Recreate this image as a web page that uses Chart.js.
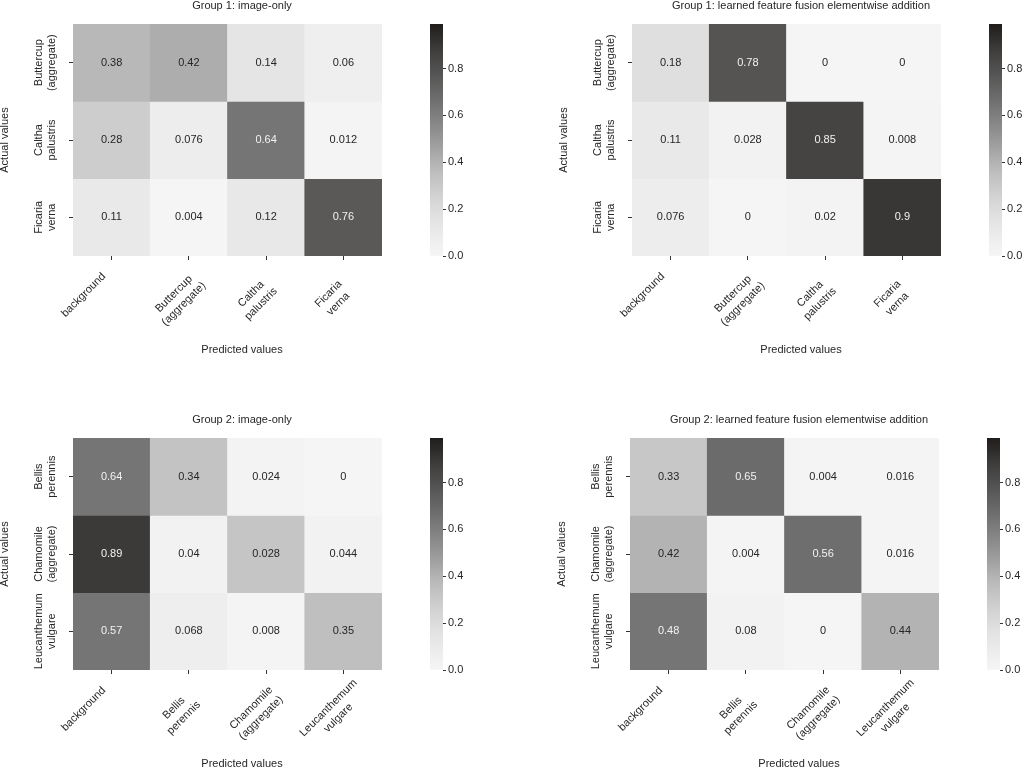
<!DOCTYPE html>
<html>
<head>
<meta charset="utf-8">
<title>Confusion matrices</title>
<script src="https://cdn.jsdelivr.net/npm/chart.js@4.4.0/dist/chart.umd.min.js"></script>
<style>
    html, body { margin: 0; padding: 0; background: #fff; overflow: hidden; }
    #page { position: relative; width: 1024px; height: 768px; overflow: hidden; }
    .panel { position: absolute; width: 512px; height: 384px; }
    .panel canvas { position: absolute; top: 0; }
</style>
</head>
<body>
<div id="page">
    <div class="panel" style="left:0px;top:0px">
        <canvas id="hm1" width="420" height="384" style="left:0px"></canvas>
        <canvas id="cb1" width="92" height="384" style="left:420px"></canvas>
    </div>
    <div class="panel" style="left:559px;top:0px">
        <canvas id="hm2" width="420" height="384" style="left:0px"></canvas>
        <canvas id="cb2" width="92" height="384" style="left:420px"></canvas>
    </div>
    <div class="panel" style="left:0px;top:414px">
        <canvas id="hm3" width="420" height="384" style="left:0px"></canvas>
        <canvas id="cb3" width="92" height="384" style="left:420px"></canvas>
    </div>
    <div class="panel" style="left:557px;top:414px">
        <canvas id="hm4" width="420" height="384" style="left:0px"></canvas>
        <canvas id="cb4" width="92" height="384" style="left:420px"></canvas>
    </div>
</div>
<script>
// class names (multi-line labels)
const group1Classes = [['Buttercup', '(aggregate)'], ['Caltha', 'palustris'], ['Ficaria', 'verna']];
const group2Classes = [['Bellis', 'perennis'], ['Chamomile', '(aggregate)'], ['Leucanthemum', 'vulgare']];
const group1Predicted = [['background'], ...group1Classes];
const group2Predicted = [['background'], ...group2Classes];

// printed values, rows = actual, columns = predicted
const g1ImageOnly = [
    [0.38, 0.42, 0.14, 0.06],
    [0.28, 0.076, 0.64, 0.012],
    [0.11, 0.004, 0.12, 0.76]
];
const g1Fusion = [
    [0.18, 0.78, 0, 0],
    [0.11, 0.028, 0.85, 0.008],
    [0.076, 0, 0.02, 0.9]
];
const g2ImageOnly = [
    [0.64, 0.34, 0.024, 0],
    [0.89, 0.04, 0.028, 0.044],
    [0.57, 0.068, 0.008, 0.35]
];
const g2Fusion = [
    [0.33, 0.65, 0.004, 0.016],
    [0.42, 0.004, 0.56, 0.016],
    [0.48, 0.08, 0, 0.44]
];

// shading of the group 2 cells (it does not always follow the printed number)
const g2ImageOnlyShade = [
    [0.64, 0.33, 0.02, 0],
    [0.89, 0.03, 0.32, 0.03],
    [0.64, 0.07, 0.01, 0.35]
];
const g2FusionShade = [
    [0.31, 0.68, 0.01, 0.01],
    [0.40, 0.01, 0.67, 0.01],
    [0.64, 0.03, 0, 0.40]
];

const cbarTicks = [0, 0.2, 0.4, 0.6, 0.8];
const cbarMax = 0.99;

const FONT = { family: '"Liberation Sans", Arial, sans-serif', size: 11 };
const FONT_CSS = FONT.size + 'px ' + FONT.family;
const TEXT = '#262626';
const LINE_H = 14;

// grey colour map, light to dark
const greys = [255, 240, 217, 189, 150, 115, 82, 50, 10];
function colourOf(v) {
    let t = Math.min(Math.max(v / cbarMax, 0), 1) * 8;
    let i = Math.min(Math.floor(t), 7);
    let g = greys[i] + (greys[i + 1] - greys[i]) * (t - i);
    g = 245 - (255 - g) * 0.88;
    // slightly warm tone in the dark end
    let k = Math.max(0, (120 - g) / 40);
    return 'rgb(' + Math.round(g + k) + ',' + Math.round(g) + ',' + Math.round(g - k) + ')';
}

function heatmap(id, title, rows, cols, vals, shade) {
    const datasets = rows.map((row, r) => ({
        label: row.join(' '),
        data: vals[r].map(() => [r, r + 1]),
        backgroundColor: shade[r].map(colourOf),
        borderWidth: 0,
        barPercentage: 1,
        categoryPercentage: 1,
        grouped: false
    }));

    // numbers inside the cells
    const cellText = {
        id: 'cellText',
        afterDatasetsDraw(chart) {
            const ctx = chart.ctx;
            ctx.save();
            ctx.font = FONT_CSS;
            ctx.textAlign = 'center';
            ctx.textBaseline = 'middle';
            chart.data.datasets.forEach((ds, r) => {
                chart.getDatasetMeta(r).data.forEach((bar, c) => {
                    ctx.fillStyle = shade[r][c] > 0.5 ? '#f2f2f2' : TEXT;
                    ctx.fillText(String(vals[r][c]), bar.x, (bar.y + bar.base) / 2);
                });
            });
            ctx.restore();
        }
    };

    // title, axis labels, rotated tick labels
    const panelText = {
        id: 'panelText',
        afterDraw(chart) {
            const ctx = chart.ctx;
            const area = chart.chartArea;
            const xScale = chart.scales.x;
            const yScale = chart.scales.y;
            ctx.save();
            ctx.font = FONT_CSS;
            ctx.fillStyle = TEXT;
            ctx.textAlign = 'center';
            ctx.textBaseline = 'middle';
            ctx.fillText(title, area.left + 169, area.top - 18);
            ctx.fillText('Predicted values', area.left + 169, area.bottom + 94);

            ctx.save();
            ctx.translate(5, (area.top + area.bottom) / 2);
            ctx.rotate(-Math.PI / 2);
            ctx.fillText('Actual values', 0, 0);
            ctx.restore();

            // row labels, turned upright
            rows.forEach((lines, r) => {
                const y = yScale.getPixelForValue(r + 0.5);
                ctx.save();
                ctx.translate(area.left - 28, y);
                ctx.rotate(-Math.PI / 2);
                lines.forEach((line, k) => {
                    ctx.fillText(line, 0, (k - (lines.length - 1) / 2) * 13);
                });
                ctx.restore();
            });

            // column labels at 45 degrees, lines centred in the block
            cols.forEach((lines, c) => {
                const x = xScale.getPixelForValue(c);
                const single = lines.length === 1;
                ctx.save();
                ctx.translate(x + (single ? -28 : -10), area.bottom + (single ? 39 : 43));
                ctx.rotate(-Math.PI / 4);
                lines.forEach((line, k) => {
                    ctx.fillText(line, 0, (k - (lines.length - 1) / 2) * LINE_H);
                });
                ctx.restore();
            });
            ctx.restore();
        }
    };

    const tickGrid = {
        offset: false,
        drawOnChartArea: false,
        drawTicks: true,
        tickLength: 4,
        color: '#333',
        lineWidth: 1
    };

    new Chart(document.getElementById(id), {
        type: 'bar',
        data: { labels: cols.map(l => l.join(' ')), datasets: datasets },
        options: {
            responsive: false,
            animation: false,
            devicePixelRatio: 1,
            layout: { padding: { top: 24, right: 38, left: 0, bottom: 0 } },
            plugins: {
                legend: { display: false },
                tooltip: { enabled: false }
            },
            scales: {
                x: {
                    type: 'category',
                    offset: true,
                    grid: tickGrid,
                    border: { display: false },
                    ticks: { display: false },
                    afterFit: s => { s.height = 128; }
                },
                y: {
                    type: 'linear',
                    min: 0,
                    max: rows.length,
                    reverse: true,
                    afterBuildTicks: s => { s.ticks = rows.map((_, r) => ({ value: r + 0.5 })); },
                    grid: tickGrid,
                    border: { display: false },
                    ticks: { display: false },
                    afterFit: s => { s.width = 73; }
                }
            }
        },
        plugins: [cellText, panelText]
    });
}

function colourbar(id) {
    new Chart(document.getElementById(id), {
        type: 'bar',
        data: {
            labels: [''],
            datasets: [{
                data: [[0, cbarMax]],
                backgroundColor: function (c) {
                    const a = c.chart.chartArea;
                    if (!a) return '#888';
                    const g = c.chart.ctx.createLinearGradient(0, a.bottom, 0, a.top);
                    for (let i = 0; i <= 20; i++) {
                        g.addColorStop(i / 20, colourOf(i / 20 * cbarMax));
                    }
                    return g;
                },
                borderWidth: 0,
                barPercentage: 1,
                categoryPercentage: 1
            }]
        },
        options: {
            responsive: false,
            animation: false,
            devicePixelRatio: 1,
            layout: { padding: { left: 10, top: 24, bottom: 128, right: 0 } },
            plugins: {
                legend: { display: false },
                tooltip: { enabled: false }
            },
            scales: {
                x: { display: false },
                y: {
                    position: 'right',
                    min: 0,
                    max: cbarMax,
                    afterBuildTicks: s => { s.ticks = cbarTicks.map(v => ({ value: v })); },
                    ticks: {
                        callback: v => v.toFixed(1),
                        padding: 2,
                        color: TEXT,
                        font: FONT
                    },
                    grid: { drawOnChartArea: false, drawTicks: true, tickLength: 3, color: '#333' },
                    border: { display: false },
                    afterFit: s => { s.width = 69; }
                }
            }
        }
    });
}

heatmap('hm1', 'Group 1: image-only', group1Classes, group1Predicted, g1ImageOnly, g1ImageOnly);
heatmap('hm2', 'Group 1: learned feature fusion elementwise addition', group1Classes, group1Predicted, g1Fusion, g1Fusion);
heatmap('hm3', 'Group 2: image-only', group2Classes, group2Predicted, g2ImageOnly, g2ImageOnlyShade);
heatmap('hm4', 'Group 2: learned feature fusion elementwise addition', group2Classes, group2Predicted, g2Fusion, g2FusionShade);

colourbar('cb1');
colourbar('cb2');
colourbar('cb3');
colourbar('cb4');
</script>
</body>
</html>
